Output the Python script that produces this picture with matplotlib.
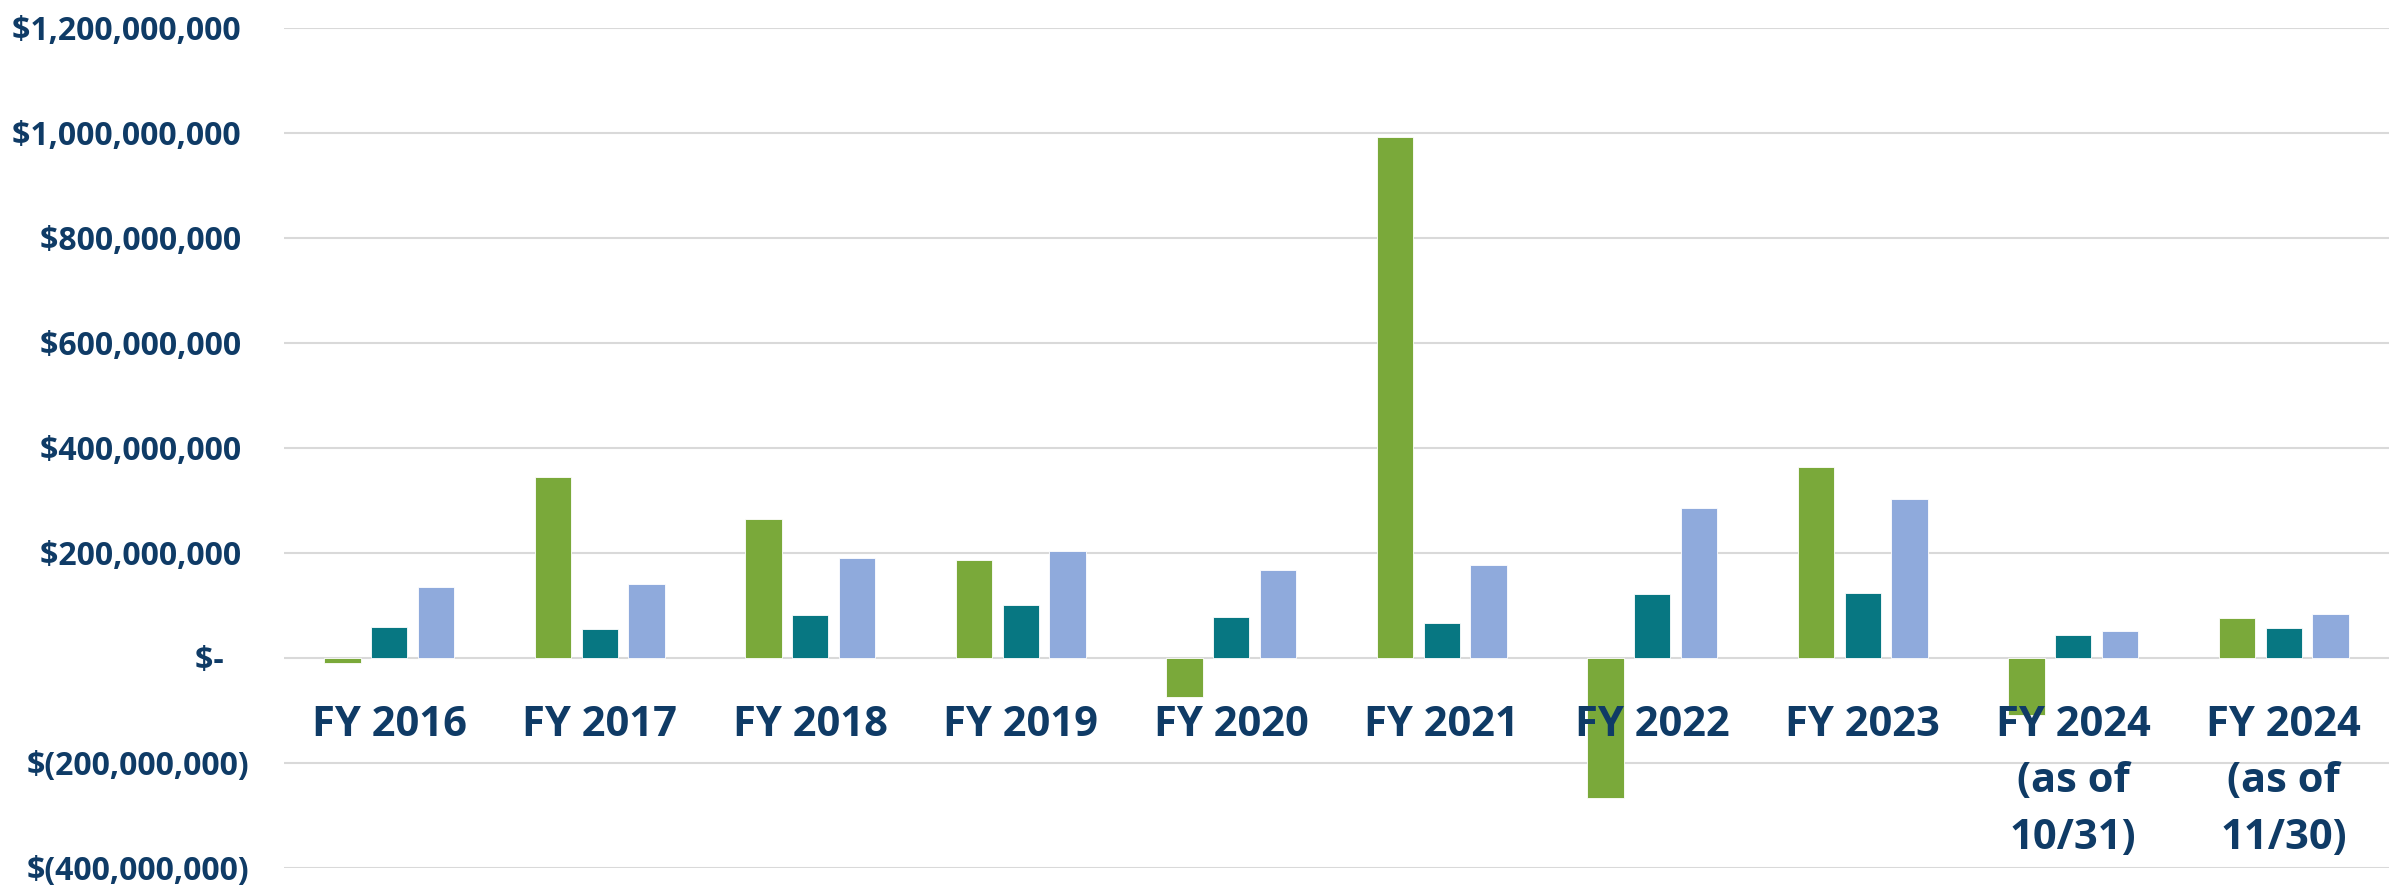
import numpy as np
import matplotlib.pyplot as plt
from matplotlib.ticker import FixedLocator, FuncFormatter

# values in dollars (millions)
years = ['FY 2016', 'FY 2017', 'FY 2018', 'FY 2019', 'FY 2020', 'FY 2021',
         'FY 2022', 'FY 2023', 'FY 2024\n(as of\n10/31)', 'FY 2024\n(as of\n11/30)']
series_a = [-11, 344, 265, 187, -75, 992, -267, 364, -110, 76]
series_b = [59, 55, 82, 100, 78, 67, 121, 124, 44, 56]
series_c = [135, 140, 189, 204, 168, 176, 286, 303, 51, 83]
yticks = [-400, -200, 0, 200, 400, 600, 800, 1000, 1200]

colors = ['#7AA93A', '#077782', '#8FAADC']
navy = '#0F3B66'
fnt = 'Open Sans'


def money(v, pos=None):
    v = int(round(v * 1e6))
    if v == 0:
        return '$-   '
    if v < 0:
        return '$({:,})'.format(-v)
    return '${:,} '.format(v)


fig = plt.figure(figsize=(24.07, 8.94), dpi=100)
ax = fig.add_axes([284 / 2407, 1 - 867.7 / 894, (2389 - 284) / 2407, (867.7 - 27.7) / 894])

x = np.arange(len(years))
w = 0.173
step = 0.222
for k, vals in enumerate([series_a, series_b, series_c]):
    ax.bar(x + (k - 1) * step, np.array(vals), w, color=colors[k],
           edgecolor='white', linewidth=0.6, zorder=2)

ax.set_xlim(-0.5, len(years) - 0.5)
ax.set_ylim(yticks[0], yticks[-1])
ax.yaxis.set_major_locator(FixedLocator(yticks))
ax.yaxis.set_major_formatter(FuncFormatter(money))
ax.grid(axis='y', color='#D9D9D9', linewidth=1.5, zorder=0)
ax.set_axisbelow(True)
ax.set_xticks([])
for s in ax.spines.values():
    s.set_visible(False)
ax.tick_params(axis='y', length=0, pad=25)
for lab in ax.get_yticklabels():
    lab.set_fontfamily(fnt)
    lab.set_fontweight('bold')
    lab.set_fontsize(23)
    lab.set_color(navy)

for i, name in enumerate(years):
    ax.annotate(name, xy=(x[i], 0), xytext=(0, -34), textcoords='offset points',
                ha='center', va='top', fontsize=30, fontweight='bold',
                family=fnt, color=navy, linespacing=1.5, zorder=3)

fig.savefig('out.png', dpi=100)
